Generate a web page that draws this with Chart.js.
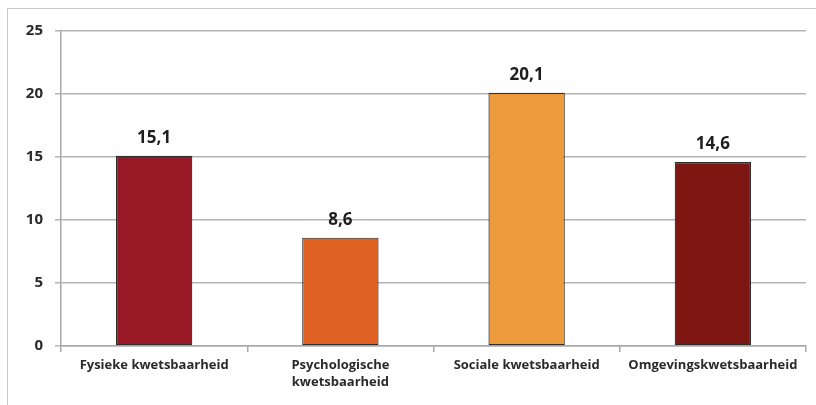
<!DOCTYPE html>
<html>
<head>
<meta charset="utf-8">
<script src="https://cdn.jsdelivr.net/npm/chart.js@4/dist/chart.umd.min.js"></script>
<style>
  body { margin: 0; background: #fff; }
  #frame { position: absolute; left: 7px; top: 8px; width: 820px; height: 410px;
           border-left: 1px solid #c8c8c8; border-top: 1px solid #c8c8c8; }
  #wrap { position: absolute; left: 0; top: 0; width: 816px; height: 405px; }
</style>
</head>
<body>
<div id="frame"></div>
<div id="wrap"><canvas id="myGraph"></canvas></div>
<script>
let categories = ['Fysieke kwetsbaarheid', ['Psychologische', 'kwetsbaarheid'], 'Sociale kwetsbaarheid', 'Omgevingskwetsbaarheid'];
let values = [15.1, 8.6, 20.1, 14.6];
let valueLabels = ['15,1', '8,6', '20,1', '14,6'];
let barColors = ['#991826', '#e06222', '#ec9a3a', '#7e1612'];

const valueLabelPlugin = {
  id: 'valueLabels',
  afterDatasetsDraw(chart) {
    const ctx = chart.ctx;
    const meta = chart.getDatasetMeta(0);
    ctx.save();
    ctx.font = 'bold 17px "Open Sans", sans-serif';
    ctx.fillStyle = '#1e1e1e';
    ctx.textAlign = 'center';
    ctx.textBaseline = 'bottom';
    meta.data.forEach((bar, i) => {
      ctx.fillText(valueLabels[i], bar.x, bar.y - 9);
    });
    ctx.restore();
  }
};

const ctx = document.getElementById('myGraph').getContext('2d');
new Chart(ctx, {
  type: 'bar',
  data: {
    labels: categories,
    datasets: [{
      data: values,
      backgroundColor: barColors,
      borderColor: '#2e2e2e',
      borderWidth: 1.2,
      borderSkipped: false,
      barPercentage: 0.82,
      categoryPercentage: 0.5
    }]
  },
  options: {
    responsive: true,
    maintainAspectRatio: false,
    animation: false,
    layout: { padding: { left: 0, right: 10, top: 31, bottom: 0 } },
    plugins: { legend: { display: false }, tooltip: { enabled: false } },
    scales: {
      x: {
        afterFit: (scale) => { scale.height = 59; },
        grid: { offset: true, drawOnChartArea: false, color: '#a8a8a8', tickLength: 6, lineWidth: 1.5 },
        border: { color: '#a8a8a8', width: 1.5 },
        ticks: { color: '#2a2a2a', padding: 5, maxRotation: 0, autoSkip: false,
                 font: { family: '"Open Sans", sans-serif', size: 13, weight: 'bold', lineHeight: 1.3 } }
      },
      y: {
        min: 0, max: 25,
        afterFit: (scale) => { scale.width = 61; },
        grid: { color: '#b4b4b4', lineWidth: 1.5, tickLength: 6 },
        border: { color: '#a8a8a8', width: 1.5 },
        ticks: { stepSize: 5, color: '#2a2a2a', padding: 12,
                 font: { family: '"Open Sans", sans-serif', size: 15, weight: 'bold' } }
      }
    }
  },
  plugins: [valueLabelPlugin]
});
</script>
</body>
</html>
